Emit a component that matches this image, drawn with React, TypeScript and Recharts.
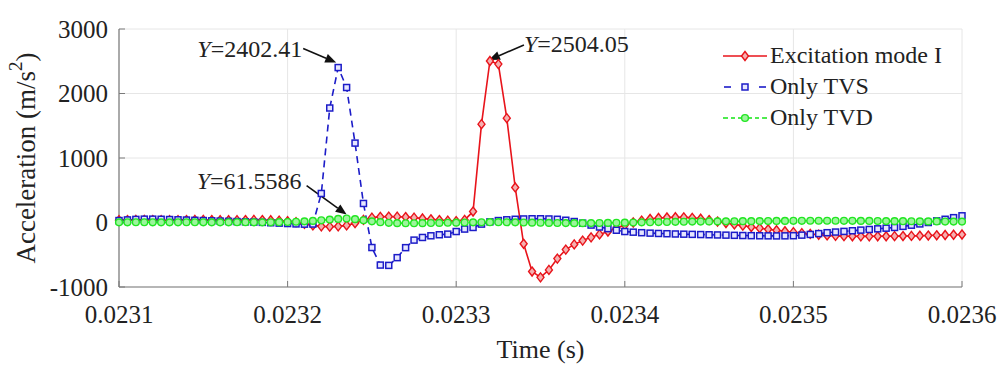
import React from 'react';
import { LineChart, Line, XAxis, YAxis, CartesianGrid, Legend, ReferenceDot } from 'recharts';

// ---- data ----
const T0 = 0.0231;
const DT = 0.000005;

const xTicks = [0.0231, 0.0232, 0.0233, 0.0234, 0.0235, 0.0236];
const yTicks = [-1000, 0, 1000, 2000, 3000];
const seriesNames = ['Excitation mode I', 'Only TVS', 'Only TVD'];

const modeI = [
  35, 38, 40, 40, 38, 36, 35, 36, 38, 40,
  40, 38, 36, 35, 36, 38, 40, 38, 35, 30,
  20, 5, -20, -45, -60, -65, -60, -45, -10, 40,
  75, 88, 92, 90, 85, 75, 62, 50, 38, 28,
  22, 40, 170, 1525, 2504.05, 2456, 1618, 543, -330, -760,
  -850, -735, -560, -420, -340, -280, -230, -185, -140, -90,
  -40, 0, 30, 55, 70, 78, 82, 80, 72, 58,
  38, 15, -8, -30, -50, -70, -88, -105, -120, -135,
  -150, -165, -178, -190, -200, -207, -212, -214, -215, -215,
  -214, -213, -212, -210, -208, -205, -202, -198, -194, -190,
  -186,
];

const onlyTVS = [
  30, 40, 48, 52, 52, 50, 46, 42, 38, 34,
  30, 26, 22, 18, 14, 10, 6, 2, -4, -10,
  -16, -22, -26, -24, 450, 1775, 2402.41, 2093, 1231, 295,
  -388, -660, -665, -545, -390, -273, -232, -206, -190, -180,
  -140, -102, -77, -25, 10, 30, 42, 50, 55, 58,
  58, 55, 50, 35, 15, -10, -40, -70, -95, -120,
  -140, -150, -158, -165, -170, -174, -178, -181, -184, -187,
  -190, -193, -196, -199, -202, -204, -206, -207, -208, -207,
  -205, -196, -185, -172, -158, -148, -138, -128, -118, -108,
  -98, -88, -77, -60, -42, -22, 0, 25, 50, 75,
  104,
];

const onlyTVD = [
  2, 3, 4, 4, 3, 2, 2, 3, 4, 4,
  3, 2, 2, 3, 4, 4, 3, 2, 3, 5,
  8, 12, 18, 25, 34, 45, 55, 61.5586, 52, 35,
  18, 5, -5, -10, -12, -12, -10, -8, -6, -4,
  -2, 0, 2, 4, 5, 5, 4, 2, 0, -2,
  -4, -6, -8, -9, -10, -10, -9, -8, -6, -4,
  -2, 0, 2, 4, 6, 8, 10, 12, 14, 15,
  16, 17, 18, 19, 20, 21, 22, 23, 24, 25,
  26, 26, 27, 27, 27, 27, 26, 26, 25, 24,
  23, 22, 21, 20, 19, 18, 17, 16, 15, 14,
  14,
];

const data = modeI.map((v, i) => ({
  t: Number((T0 + i * DT).toFixed(7)),
  modeI: v,
  tvs: onlyTVS[i],
  tvd: onlyTVD[i],
}));

// ---- styles ----
const SERIF = '"Liberation Serif", "Times New Roman", serif';
const RED = '#e8141b';
const BLUE = '#1c1cc8';
const GREEN = '#22e622';
const AXIS = '#7a7a7a';
const TEXT = '#222';

const Diamond = (p: any) => {
  const { cx, cy, index } = p;
  if (cx == null || cy == null) return <g key={`d${index}`} />;
  return (
    <path
      key={`d${index}`}
      d={`M${cx},${cy - 4.5}L${cx + 3.5},${cy}L${cx},${cy + 4.5}L${cx - 3.5},${cy}Z`}
      fill="#f5b0b0"
      stroke={RED}
      strokeWidth={1.4}
    />
  );
};

const Square = (p: any) => {
  const { cx, cy, index } = p;
  if (cx == null || cy == null) return <g key={`s${index}`} />;
  return (
    <rect key={`s${index}`} x={cx - 3} y={cy - 3} width={6} height={6} fill="#e6e6ff" stroke={BLUE} strokeWidth={1.5} />
  );
};

const Circle = (p: any) => {
  const { cx, cy, index } = p;
  if (cx == null || cy == null) return <g key={`c${index}`} />;
  return <circle key={`c${index}`} cx={cx} cy={cy} r={3.4} fill="#9cf59c" stroke={GREEN} strokeWidth={1.4} />;
};

const makeCallout = (text: string, tail: [number, number], tip: [number, number], textPos: [number, number], anchor: 'start' | 'end') =>
  (p: any) => {
    const { cx, cy } = p;
    if (cx == null || cy == null) return <g />;
    const x1 = cx + tail[0];
    const y1 = cy + tail[1];
    const x2 = cx + tip[0];
    const y2 = cy + tip[1];
    const ang = Math.atan2(y2 - y1, x2 - x1);
    const L = 11;
    const W = 4.5;
    const bx = x2 - L * Math.cos(ang);
    const by = y2 - L * Math.sin(ang);
    const px = -Math.sin(ang) * W;
    const py = Math.cos(ang) * W;
    return (
      <g>
        <line x1={x1} y1={y1} x2={bx} y2={by} stroke="#111" strokeWidth={1.6} />
        <path d={`M${x2},${y2}L${bx + px},${by + py}L${bx - px},${by - py}Z`} fill="#111" />
        <text x={cx + textPos[0]} y={cy + textPos[1]} textAnchor={anchor} fontFamily={SERIF} fontSize={24} fill={TEXT}>
          <tspan fontStyle="italic">Y</tspan>
          <tspan>={text}</tspan>
        </text>
      </g>
    );
  };

const YLabel = (p: any) => {
  const vb = p.viewBox || { x: 0, y: 29, width: 119, height: 258 };
  const x = vb.x + 26;
  const y = vb.y + vb.height / 2;
  return (
    <text x={x} y={y} transform={`rotate(-90, ${x}, ${y})`} textAnchor="middle" dominantBaseline="central" fontFamily={SERIF} fontSize={27} fill={TEXT}>
      <tspan>Acceleration (m/s</tspan>
      <tspan fontSize={19} dy={-11}>2</tspan>
      <tspan dy={11}>)</tspan>
    </text>
  );
};

const XLabel = (p: any) => {
  const vb = p.viewBox || { x: 119, y: 287, width: 843, height: 93 };
  return (
    <text x={vb.x + vb.width / 2} y={vb.y + 71} textAnchor="middle" fontFamily={SERIF} fontSize={26} fill={TEXT}>
      Time (s)
    </text>
  );
};

const legendItems = [
  { name: seriesNames[0], kind: 'red' },
  { name: seriesNames[1], kind: 'blue' },
  { name: seriesNames[2], kind: 'green' },
];

const LegendSample = ({ kind }: { kind: string }) => {
  if (kind === 'red') {
    return (
      <svg width={46} height={20}>
        <line x1={1} x2={45} y1={10} y2={10} stroke={RED} strokeWidth={1.6} />
        <path d="M23,5.5L26.5,10L23,14.5L19.5,10Z" fill="#f5b0b0" stroke={RED} strokeWidth={1.4} />
      </svg>
    );
  }
  if (kind === 'blue') {
    return (
      <svg width={46} height={20}>
        <line x1={2} x2={9} y1={10} y2={10} stroke={BLUE} strokeWidth={1.6} />
        <line x1={37} x2={44} y1={10} y2={10} stroke={BLUE} strokeWidth={1.6} />
        <rect x={20} y={7} width={6} height={6} fill="#e6e6ff" stroke={BLUE} strokeWidth={1.5} />
      </svg>
    );
  }
  return (
    <svg width={46} height={20}>
      <line x1={1} x2={6} y1={10} y2={10} stroke={GREEN} strokeWidth={1.6} />
      <line x1={9} x2={13} y1={10} y2={10} stroke={GREEN} strokeWidth={1.6} />
      <line x1={16} x2={30} y1={10} y2={10} stroke={GREEN} strokeWidth={1.6} />
      <line x1={33} x2={37} y1={10} y2={10} stroke={GREEN} strokeWidth={1.6} />
      <line x1={40} x2={45} y1={10} y2={10} stroke={GREEN} strokeWidth={1.6} />
      <circle cx={23} cy={10} r={3.4} fill="#9cf59c" stroke={GREEN} strokeWidth={1.4} />
    </svg>
  );
};

const renderLegend = () => (
  <div style={{ fontFamily: SERIF, fontSize: 24, color: TEXT }}>
    {legendItems.map((it) => (
      <div key={it.name} style={{ display: 'flex', alignItems: 'center', height: 31 }}>
        <LegendSample kind={it.kind} />
        <span style={{ marginLeft: 2, whiteSpace: 'nowrap', lineHeight: '31px' }}>{it.name}</span>
      </div>
    ))}
  </div>
);

const callouts = [
  { x: data[26].t, y: onlyTVS[26], shape: makeCallout('2402.41', [-35, -19], [-2, -5], [-36, -11], 'end') },
  { x: data[44].t, y: modeI[44], shape: makeCallout('2504.05', [34, -16], [-1, -1], [34, -9], 'start') },
  { x: data[27].t, y: onlyTVD[27], shape: makeCallout('61.5586', [-40, -33], [0, -4], [-45, -30], 'end') },
];

export default function App() {
  return (
    <div style={{ position: 'absolute', left: 0, top: 0, width: 999, height: 380, background: '#fff' }}>
      <LineChart width={999} height={380} data={data} margin={{ top: 29, right: 37, left: 0, bottom: 0 }}>
        <CartesianGrid stroke="#e6e6e6" strokeWidth={1} />
        <XAxis
          dataKey="t"
          type="number"
          domain={[0.0231, 0.0236]}
          ticks={xTicks}
          tickFormatter={(v: number) => v.toFixed(4)}
          height={93}
          tickSize={-6}
          tickMargin={24}
          axisLine={{ stroke: AXIS, strokeWidth: 1.2 }}
          tickLine={{ stroke: AXIS }}
          tick={{ fontFamily: SERIF, fontSize: 25, fill: TEXT }}
          label={<XLabel />}
        />
        <YAxis
          type="number"
          domain={[-1000, 3000]}
          ticks={yTicks}
          width={119}
          tickSize={-6}
          tickMargin={17}
          axisLine={{ stroke: AXIS, strokeWidth: 1.2 }}
          tickLine={{ stroke: AXIS }}
          tick={{ fontFamily: SERIF, fontSize: 25, fill: TEXT }}
          label={<YLabel />}
        />
        <Line dataKey="modeI" name={seriesNames[0]} stroke={RED} strokeWidth={1.6} dot={Diamond} activeDot={false} isAnimationActive={false} />
        <Line dataKey="tvs" name={seriesNames[1]} stroke={BLUE} strokeWidth={1.6} strokeDasharray="7 5" dot={Square} activeDot={false} isAnimationActive={false} />
        <Line dataKey="tvd" name={seriesNames[2]} stroke={GREEN} strokeWidth={1.6} strokeDasharray="6 3 2 3" dot={Circle} activeDot={false} isAnimationActive={false} />
        {callouts.map((c, i) => (
          <ReferenceDot key={i} x={c.x} y={c.y} r={0} ifOverflow="visible" shape={c.shape} />
        ))}
        <Legend
          layout="vertical"
          align="center"
          verticalAlign="middle"
          content={renderLegend}
          wrapperStyle={{ left: 722, top: 40, width: 250, height: 95 }}
        />
      </LineChart>
    </div>
  );
}
